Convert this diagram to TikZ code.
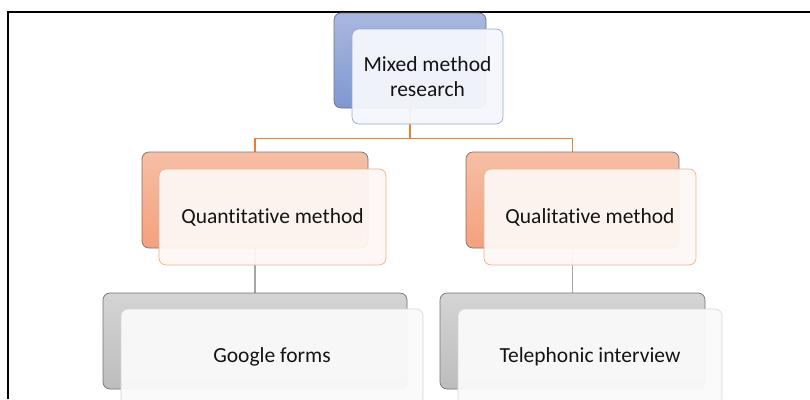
\documentclass[tikz,border=0pt]{standalone}
\usepackage{fontspec}
\setmainfont[Ligatures={NoCommon,NoRare,NoContextual}]{Carlito}
\usetikzlibrary{positioning,backgrounds}

\definecolor{bluetop}{HTML}{AAB8E0}
\definecolor{bluebot}{HTML}{7F97D1}
\definecolor{blueline}{HTML}{8FAADC}
\definecolor{bluefill}{HTML}{F5F7FC}
\definecolor{orangetop}{HTML}{F6BFA6}
\definecolor{orangebot}{HTML}{F4A17D}
\definecolor{orangeline}{HTML}{F4B183}
\definecolor{orangefill}{HTML}{FDF7F4}
\definecolor{orangelink}{HTML}{ED7D31}
\definecolor{graytop}{HTML}{D4D4D4}
\definecolor{graybot}{HTML}{BDBDBD}
\definecolor{grayline}{HTML}{D6D6D6}
\definecolor{grayfill}{HTML}{FAFAFA}
\definecolor{graylink}{HTML}{A5A5A5}

\begin{document}
\begin{tikzpicture}[x=1pt,y=-1pt,
  backbox/.style={draw=black!55,rounded corners=7pt,line width=0.7pt,
    inner sep=0pt,minimum height=96pt},
  frontbox/.style={draw,rounded corners=7pt,line width=0.7pt,inner sep=0pt,
    minimum height=96pt,fill opacity=0.95,text opacity=1,align=center,
    text=black!92,font=\fontsize{21.5}{25}\selectfont},
  bluebox/.style={backbox,top color=bluetop,bottom color=bluebot},
  orangebox/.style={backbox,top color=orangetop,bottom color=orangebot},
  graybox/.style={backbox,top color=graytop,bottom color=graybot}]
\useasboundingbox (0,0) rectangle (810,399);
\draw[line width=1.5pt] (8,399) -- (8,12) -- (810,12);
% top level
\node[bluebox,minimum width=152pt,minimum height=95pt] (mixedback) at (410,60.5) {};
\node[frontbox,draw=blueline,fill=bluefill,minimum width=151pt,minimum height=95pt]
  (mixed) at (427.5,76.5) {Mixed method\\research};
% methods
\node[orangebox,minimum width=226pt] (quantback) at (255,200) {};
\node[frontbox,draw=orangeline,fill=orangefill,minimum width=227pt]
  (quant) at (272.5,217) {Quantitative method};
\node[orangebox,minimum width=213pt] (qualback) at (572.5,200) {};
\node[frontbox,draw=orangeline,fill=orangefill,minimum width=212pt]
  (qual) at (590,217) {Qualitative method};
% tools
\node[graybox,minimum width=304pt] (googleback) at (255,341) {};
\node[frontbox,draw=grayline,fill=grayfill,minimum width=302pt]
  (google) at (272,357) {Google forms};
\node[graybox,minimum width=265pt] (telback) at (572.5,341) {};
\node[frontbox,draw=grayline,fill=grayfill,minimum width=264pt]
  (tel) at (590,357) {Telephonic interview};
% links
\begin{scope}[on background layer]
\draw[orangelink,line width=1.3pt] (mixedback.south) -- ++(0,30) -| (quantback.north);
\draw[orangelink,line width=1.3pt] (mixedback.south) -- ++(0,30) -| (qualback.north);
\draw[graylink,line width=1.3pt] (quantback.south) -- (googleback.north);
\draw[graylink,line width=1.3pt] (qualback.south) -- (telback.north);
\end{scope}
\end{tikzpicture}
\end{document}
